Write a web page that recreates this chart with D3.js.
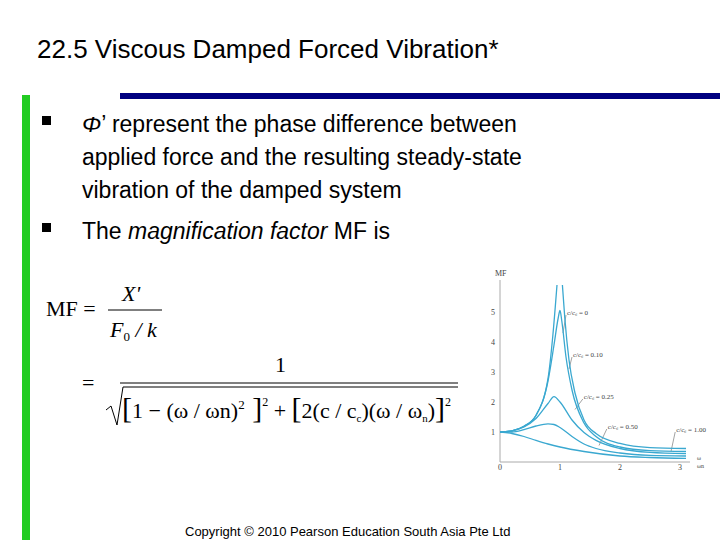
<!DOCTYPE html><html><head><meta charset="utf-8">
<script src="https://cdn.jsdelivr.net/npm/d3@7"></script>
<style>body{margin:0;background:#fff}svg{display:block}</style></head><body>
<script>
// Data: x = omega/omega_n, y = MF
const xTicks=[0,1,2,3];
const yTicks=[1,2,3,4,5];
const curveLabels=["c/c꜀ = 0","c/c꜀ = 0.10","c/c꜀ = 0.25","c/c꜀ = 0.50","c/c꜀ = 1.00"];
const z0Left=[[0,1],[0.2,1.04],[0.4,1.19],[0.6,1.56],[0.8,2.78],[0.88,4.2],[0.95,5.9]];
const z0Right=[[1.04,5.9],[1.08,4.8],[1.15,3.4],[1.25,2.3],[1.4,1.4],[1.6,0.95],[2,0.62],[2.5,0.48],[3.1,0.45]];
const z010=[[0,1],[0.2,1.04],[0.4,1.19],[0.6,1.55],[0.8,2.7],[0.9,3.9],[0.97,4.8],[1.0,5.05],[1.03,4.7],[1.1,3.5],[1.2,2.4],[1.4,1.3],[1.6,0.85],[2,0.5],[2.5,0.38],[3.1,0.35]];
const z025=[[0,1],[0.2,1.04],[0.4,1.17],[0.6,1.45],[0.8,1.95],[0.9,2.18],[1.0,2.0],[1.2,1.4],[1.4,0.98],[1.6,0.72],[2,0.45],[2.5,0.32],[3.1,0.28]];
const z050=[[0,1],[0.2,1.0],[0.4,1.08],[0.6,1.2],[0.8,1.27],[0.9,1.25],[1.0,1.15],[1.2,0.85],[1.4,0.6],[1.6,0.45],[2,0.3],[2.5,0.22],[3.1,0.2]];
const z100=[[0,1],[0.2,0.95],[0.4,0.85],[0.6,0.72],[0.8,0.6],[1.0,0.5],[1.4,0.35],[2,0.2],[2.5,0.15],[3.1,0.12]];
const series=[z0Left,z0Right,z010,z025,z050,z100];

const svg=d3.select("body").append("svg").attr("width",720).attr("height",540);
svg.append("rect").attr("x",22).attr("y",95).attr("width",8).attr("height",445).attr("fill","#22cc22");
svg.append("rect").attr("x",120).attr("y",93).attr("width",600).attr("height",6).attr("fill","#000080");
svg.append("text").attr("x",37).attr("y",58).attr("font-family","Liberation Sans").attr("font-size",26).text("22.5 Viscous Damped Forced Vibration*");
[124,231].forEach(yy=>svg.append("rect").attr("x",42).attr("y",yy-8).attr("width",9).attr("height",9).attr("fill","#000"));
const t=svg.append("g").attr("font-family","Liberation Sans").attr("font-size",23);
t.append("text").attr("x",82).attr("y",132).html('<tspan font-style="italic">Φ</tspan>’ represent the phase difference between');
t.append("text").attr("x",82).attr("y",165).text("applied force and the resulting steady-state");
t.append("text").attr("x",82).attr("y",198).text("vibration of the damped system");
t.append("text").attr("x",82).attr("y",239).html('The <tspan font-style="italic">magnification factor</tspan> MF is');
// formula
const f=svg.append("g").attr("font-family","Liberation Serif").attr("font-size",22);
f.append("text").attr("x",46).attr("y",316).text("MF =");
f.append("text").attr("x",122).attr("y",301).attr("font-style","italic").text("X'");
f.append("line").attr("x1",108).attr("x2",162).attr("y1",310).attr("y2",310).attr("stroke","#000");
f.append("text").attr("x",110).attr("y",337).attr("font-style","italic").html('F<tspan font-size="13" dy="4" font-style="normal">0</tspan><tspan dy="-4"> / k</tspan>');
f.append("text").attr("x",82).attr("y",390).text("=");
f.append("text").attr("x",275).attr("y",372).text("1");
f.append("line").attr("x1",120).attr("x2",458).attr("y1",383).attr("y2",383).attr("stroke","#000");
f.append("path").attr("d","M106,410 L111,406 L117,425 L123,387 L458,387").attr("fill","none").attr("stroke","#000");
f.append("text").attr("x",122).attr("y",418).html('<tspan font-size="30">[</tspan>1 − (ω / ωn)<tspan font-size="13" dy="-9">2</tspan><tspan dy="9" font-size="30"> ]</tspan><tspan font-size="12" dy="-12">2</tspan><tspan dy="12"> + </tspan><tspan font-size="30">[</tspan>2(c / c<tspan font-size="11" dy="4">c</tspan><tspan dy="-4">)(ω / ω</tspan><tspan font-size="11" dy="4">n</tspan><tspan dy="-4">)</tspan><tspan font-size="30">]</tspan><tspan font-size="12" dy="-12">2</tspan>');
// chart
const x=d3.scaleLinear().domain([0,3]).range([500,680]);
const y=d3.scaleLinear().domain([0,5]).range([462,312]);
const g=svg.append("g").attr("font-family","Liberation Serif").attr("font-size",8).attr("fill","#444");
g.append("line").attr("x1",500).attr("x2",500).attr("y1",280).attr("y2",462).attr("stroke","#aaa");
g.append("line").attr("x1",500).attr("x2",690).attr("y1",462).attr("y2",462).attr("stroke","#aaa");
g.append("text").attr("x",495).attr("y",276).text("MF");
xTicks.forEach(v=>g.append("text").attr("x",x(v)).attr("y",470).attr("text-anchor","middle").text(v));
yTicks.forEach(v=>g.append("text").attr("x",495).attr("y",y(v)+3).attr("text-anchor","end").text(v));
g.append("text").attr("x",697).attr("y",460).attr("font-size",6).text("ω");
g.append("text").attr("x",697).attr("y",468).attr("font-size",6).text("ωn");
const line=d3.line().x(d=>x(d[0])).y(d=>y(d[1])).curve(d3.curveMonotoneX);
series.forEach(s=>svg.append("path").attr("d",line(s)).attr("fill","none").attr("stroke","#3aa8d0").attr("stroke-width",1.3));
const lp=[[1.1,4.9,1.05,4.3],[1.2,3.5,1.15,3.1],[1.38,2.1,1.25,1.75],[1.78,1.1,1.65,0.55],[2.92,1.0,2.85,0.35]];
lp.forEach((p,i)=>{
 g.append("line").attr("x1",x(p[0])).attr("y1",y(p[1])).attr("x2",x(p[2])).attr("y2",y(p[3])).attr("stroke","#444").attr("stroke-width",0.5);
 g.append("text").attr("x",x(p[0])+1).attr("y",y(p[1])).attr("font-size",7).text(curveLabels[i]);
});
svg.append("text").attr("x",185).attr("y",536).attr("font-family","Liberation Sans").attr("font-size",13).text("Copyright © 2010 Pearson Education South Asia Pte Ltd");
</script></body></html>
